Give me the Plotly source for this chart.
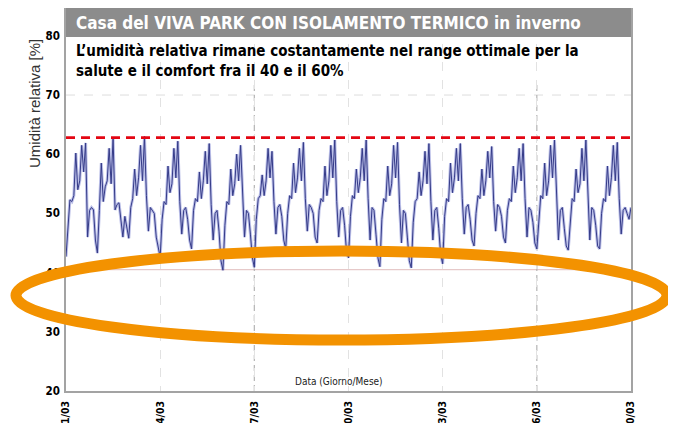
import plotly.graph_objects as go

# ---------------- data ----------------
giorni_tick = [0, 3, 6, 9, 12, 15, 18]
etichette_tick = ["01/03", "04/03", "07/03", "10/03", "13/03", "16/03", "20/03"]
giorni_griglia_marcata = [6, 15]
valori_tick_y = [20, 30, 40, 50, 60, 70, 80]
campioni_per_giorno = 16

# relative humidity [%], 16 samples per day (every 1.5 h), 18 days
umidita_giorni = [
    [42.7, 48.5, 52.3, 52.0, 53.0, 60.2, 54.0, 55.5, 61.5, 57.0, 61.9, 46.0, 50.5, 51.0, 50.6, 45.5],
    [43.3, 50.5, 58.5, 52.0, 54.5, 55.5, 61.0, 55.0, 62.7, 50.6, 51.5, 51.8, 49.0, 46.0, 49.5, 47.5],
    [45.8, 51.0, 52.5, 57.5, 53.0, 56.0, 61.5, 55.5, 63.0, 53.0, 47.0, 51.0, 50.5, 50.0, 46.0, 44.0],
    [42.6, 49.0, 52.0, 51.5, 58.0, 53.5, 55.0, 61.0, 56.0, 62.2, 52.0, 46.5, 50.5, 51.0, 49.0, 45.5],
    [44.0, 50.5, 52.5, 52.0, 57.0, 52.5, 55.5, 60.5, 55.0, 61.8, 51.5, 45.5, 50.0, 50.5, 47.0, 42.0],
    [40.4, 48.0, 52.0, 51.5, 57.5, 53.0, 55.0, 60.0, 55.5, 61.5, 52.5, 46.0, 50.5, 50.0, 46.5, 42.5],
    [40.9, 49.0, 52.5, 53.0, 56.5, 53.0, 55.5, 61.0, 56.0, 60.5, 52.0, 46.5, 51.0, 51.5, 49.5, 45.5],
    [44.0, 50.0, 53.0, 52.5, 58.5, 53.5, 56.0, 61.0, 55.5, 62.0, 52.5, 47.0, 51.5, 51.0, 50.0, 46.0],
    [45.0, 50.5, 52.5, 52.0, 58.0, 53.0, 55.5, 61.5, 56.0, 62.4, 52.0, 46.0, 50.5, 51.0, 48.0, 43.5],
    [42.5, 49.5, 53.0, 52.5, 57.5, 53.5, 56.0, 61.0, 55.5, 62.4, 52.5, 45.5, 51.0, 50.5, 46.5, 42.5],
    [41.0, 49.0, 52.5, 52.0, 58.0, 53.0, 55.0, 61.5, 56.0, 62.0, 51.5, 45.0, 50.5, 50.0, 46.0, 42.0],
    [40.8, 48.5, 52.0, 52.5, 57.0, 53.0, 55.5, 60.5, 55.0, 61.8, 52.0, 45.5, 50.5, 51.0, 47.5, 43.0],
    [41.5, 49.5, 52.5, 52.0, 58.5, 53.5, 56.0, 61.0, 55.5, 61.8, 52.5, 46.5, 51.0, 51.5, 49.0, 45.5],
    [44.5, 50.0, 53.0, 52.5, 57.5, 53.0, 55.5, 60.5, 56.0, 61.3, 52.0, 47.0, 51.5, 51.0, 49.5, 46.0],
    [45.0, 50.5, 52.5, 52.0, 58.0, 53.5, 56.0, 61.0, 55.5, 61.8, 52.5, 46.0, 51.0, 50.5, 48.5, 45.0],
    [44.0, 49.5, 53.0, 52.5, 58.5, 53.0, 55.5, 61.5, 56.0, 62.4, 53.0, 45.5, 50.5, 51.0, 47.5, 44.5],
    [43.8, 49.0, 52.5, 52.0, 57.5, 53.5, 55.0, 61.0, 55.5, 62.4, 52.0, 45.5, 51.0, 50.5, 48.0, 44.5],
    [44.0, 50.0, 52.5, 52.0, 58.0, 53.0, 56.0, 61.5, 55.5, 62.0, 52.5, 46.5, 50.5, 51.0, 50.0, 49.0],
]
umidita_finale = 51.0

soglia_superiore = 62.8   # red dashed line
linea_inferiore = 40.5    # light line near 40 %
griglia_y = [70]

titolo = "Casa del VIVA PARK CON ISOLAMENTO TERMICO in inverno"
sottotitolo = ("L\u2019umidità relativa rimane costantamente nel range ottimale per la<br>"
               "salute e il comfort fra il 40 e il 60%")
titolo_y = "Umidità relativa [%]"
titolo_x = "Data (Giorno/Mese)"

# ---------------- build ----------------
y = [v for giorno in umidita_giorni for v in giorno] + [umidita_finale]
x = [i / campioni_per_giorno for i in range(len(y))]
x_max = len(umidita_giorni)

NARROW = "DejaVu Sans Condensed, Liberation Sans Narrow, Arial Narrow, sans-serif"
SANS = "Liberation Sans, Arial, sans-serif"

OFF = 8                       # page body margin of the html page
W, H = 676 - OFF, 423 - OFF   # figure size that fits the window
# plot area in page pixels: x 66..631, y 8..391
L, R, T, B = 66 - OFF, W - (631 - OFF), 8 - OFF, H - (391 - OFF)
pw, ph = W - L - R, H - T - B

def px_x(p):
    return (p - OFF - L) / pw

def px_y(p):
    return (H - B - (p - OFF)) / ph

fig = go.Figure()

# blurred halo + dark core of the humidity line
fig.add_trace(go.Scatter(x=x, y=y, mode="lines",
                         line=dict(color="rgba(120,128,210,0.5)", width=3.0),
                         hoverinfo="skip", showlegend=False))
fig.add_trace(go.Scatter(x=x, y=y, mode="lines",
                         line=dict(color="#353b88", width=1.0),
                         showlegend=False))

# threshold lines
fig.add_trace(go.Scatter(x=[0, x_max], y=[soglia_superiore] * 2, mode="lines",
                         line=dict(color="#e30613", width=2.6, dash="9px,6px"),
                         hoverinfo="skip", showlegend=False))

shapes = []
shapes.append(dict(type="line", xref="paper", x0=0, x1=1, yref="y",
                   y0=linea_inferiore, y1=linea_inferiore,
                   line=dict(color="#e6c9c9", width=1.2), layer="below"))
for g in griglia_y:
    shapes.append(dict(type="line", xref="paper", x0=0, x1=1, yref="y", y0=g, y1=g,
                       line=dict(color="#dddddd", width=1, dash="dash"), layer="below"))
for g in giorni_griglia_marcata:
    shapes.append(dict(type="line", xref="x", x0=g, x1=g, yref="paper", y0=0, y1=1,
                       line=dict(color="#b4b4b4", width=1.2, dash="6px,4px"), layer="below"))

# white subtitle box (covers grid)
shapes.append(dict(type="rect", xref="paper", x0=0.002, x1=0.998,
                   yref="paper", y0=px_y(85), y1=px_y(37),
                   fillcolor="white", line=dict(width=0), layer="between"))
# gray title bar
shapes.append(dict(type="rect", xref="paper", x0=0, x1=1,
                   yref="paper", y0=px_y(37), y1=px_y(8),
                   fillcolor="#8c8c8c", line=dict(width=0), layer="above"))
# orange ellipse
shapes.append(dict(type="circle", xref="paper", yref="paper",
                   x0=px_x(16), x1=px_x(667), y0=px_y(340), y1=px_y(251),
                   line=dict(color="#f39200", width=11), layer="above"))

annotations = [
    dict(text="<b>" + titolo + "</b>", xref="paper", yref="paper",
         x=px_x(74), y=px_y(22.5), xanchor="left", yanchor="middle", showarrow=False,
         font=dict(family=NARROW, size=17, color="white")),
    dict(text="<b>" + sottotitolo + "</b>", xref="paper", yref="paper",
         x=px_x(74), y=px_y(40), xanchor="left", yanchor="top", showarrow=False,
         align="left", font=dict(family=NARROW, size=15, color="black")),
    dict(text=titolo_y, xref="paper", yref="paper", textangle=-90,
         x=px_x(34), y=px_y(104), xanchor="center", yanchor="middle", showarrow=False,
         font=dict(family=SANS, size=15, color="#333333")),
    dict(text=titolo_x, xref="paper", yref="paper",
         x=px_x(339), y=px_y(381), xanchor="center", yanchor="middle", showarrow=False,
         font=dict(family=NARROW, size=10, color="#222222")),
]

fig.update_layout(
    width=W, height=H,
    margin=dict(l=L, r=R, t=T, b=B, pad=0, autoexpand=False),
    paper_bgcolor="white", plot_bgcolor="white",
    shapes=shapes, annotations=annotations,
    showlegend=False,
)
fig.update_xaxes(range=[0, x_max], tickvals=giorni_tick, ticktext=etichette_tick,
                 tickangle=-90, ticks="", ticklabelstandoff=4, automargin=False,
                 tickfont=dict(family=NARROW, size=10.5, color="black", weight="bold"),
                 showgrid=True, gridcolor="#e2e2e2", griddash="dash", gridwidth=1,
                 showline=True, linecolor="#a3a3a3", linewidth=1.5, mirror=True,
                 zeroline=False)
fig.update_yaxes(range=[20, 84.7], tickvals=valori_tick_y, ticks="",
                 ticklabelstandoff=2, automargin=False,
                 tickfont=dict(family=NARROW, size=11.5, color="black", weight="bold"),
                 showgrid=False, showline=True, linecolor="#a3a3a3", linewidth=1.5,
                 mirror=True, zeroline=False)

fig.write_html("out.html")
